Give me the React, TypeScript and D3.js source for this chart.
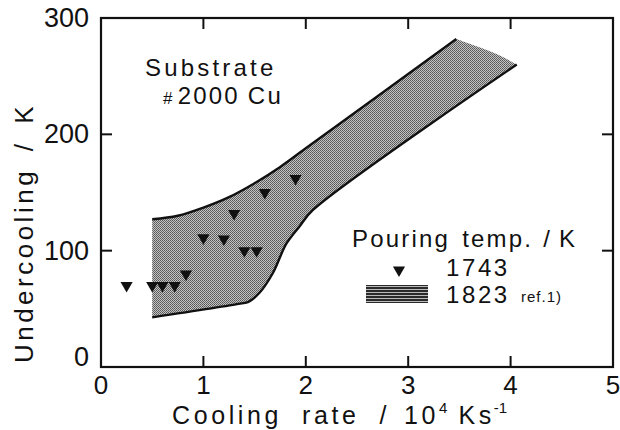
import React from "react";
import * as d3 from "d3";

const xTicks = [0, 1, 2, 3, 4, 5];
const yTicks = [0, 100, 200, 300];
const innerXTicks = [1, 2, 3, 4];
const innerYTicks = [100, 200];

// Pouring temp 1743 K (triangles)
const rate1743 = [0.25, 0.5, 0.6, 0.72, 0.83, 1.0, 1.2, 1.3, 1.4, 1.52, 1.6, 1.9];
const under1743 = [70, 70, 70, 70, 80, 111, 110, 132, 100, 100, 150, 162];

// Pouring temp 1823 K band (ref. 1)
const bandUpperX = [0.5, 0.75, 1.0, 1.25, 1.5, 1.75, 2.0, 3.47];
const bandUpperY = [127, 130, 137, 146, 158, 172, 188, 282];
const bandRightX = [3.47, 3.69, 3.89, 4.06];
const bandRightY = [282, 275, 268, 260];
const bandLowerX = [4.06, 2.07, 1.94, 1.81, 1.68, 1.55, 1.44, 1.36, 0.5];
const bandLowerY = [260, 135, 121, 106, 81, 64, 56, 54.5, 42.7];

const W = 620;
const H = 430;
const FONT = "'Liberation Sans', Arial, sans-serif";

export default function App() {
  const x = d3.scaleLinear().domain([0, 5]).range([101, 613]);
  const y = d3.scaleLinear().domain([0, 300]).range([367, 18]);

  const pts = (xs: number[], ys: number[]) => xs.map((v, i) => [x(v), y(ys[i])] as [number, number]);
  const upper = pts(bandUpperX, bandUpperY);
  const right = pts(bandRightX, bandRightY);
  const lower = pts(bandLowerX, bandLowerY);

  const lineC = d3.line().curve(d3.curveCatmullRom.alpha(0.5));
  const upperPath = lineC(upper) as string;
  const rightPath = lineC(right) as string;
  const lowerPath = lineC(lower) as string;
  const fillPath =
    upperPath + "L" + rightPath.slice(1) + "L" + lowerPath.slice(1) + "Z";

  const tri = d3.symbol().type(d3.symbolTriangle).size(64)() as string;

  const [x0, x1] = x.range();
  const [y0, y1] = y.range();

  const txt = { fontFamily: FONT, fill: "#111" } as const;

  return (
    <svg
      width={W}
      height={H}
      viewBox={`0 0 ${W} ${H}`}
      style={{ position: "absolute", left: 0, top: 0, background: "#fff" }}
    >
      <defs>
        <pattern id="stipple" width="2" height="2" patternUnits="userSpaceOnUse">
          <rect width="2" height="2" fill="#c4c4c4" />
          <rect width="1" height="1" fill="#555" />
          <rect x="1" y="1" width="1" height="1" fill="#666" />
        </pattern>
        <pattern id="hatch" width="4" height="3" patternUnits="userSpaceOnUse">
          <rect width="4" height="3" fill="#2a2a2a" />
          <rect y="1" width="4" height="1" fill="#bbb" />
        </pattern>
      </defs>

      {/* band */}
      <path d={fillPath} fill="url(#stipple)" stroke="none" />
      <path d={upperPath} fill="none" stroke="#111" strokeWidth={2.4} />
      <path d={lowerPath} fill="none" stroke="#111" strokeWidth={2.4} />

      {/* frame */}
      <rect x={x0} y={y1} width={x1 - x0} height={y0 - y1} fill="none" stroke="#111" strokeWidth={2.2} />
      {innerXTicks.map((t) => (
        <g key={"xt" + t}>
          <line x1={x(t)} x2={x(t)} y1={y0} y2={y0 - 11} stroke="#111" strokeWidth={2} />
          <line x1={x(t)} x2={x(t)} y1={y1} y2={y1 + 11} stroke="#111" strokeWidth={2} />
        </g>
      ))}
      {innerYTicks.map((t) => (
        <g key={"yt" + t}>
          <line x1={x0} x2={x0 + 11} y1={y(t)} y2={y(t)} stroke="#111" strokeWidth={2} />
          <line x1={x1} x2={x1 - 11} y1={y(t)} y2={y(t)} stroke="#111" strokeWidth={2} />
        </g>
      ))}

      {/* tick labels */}
      {xTicks.map((t) => (
        <text key={"xl" + t} x={x(t)} y={394} textAnchor="middle" fontSize={26} {...txt}>
          {t}
        </text>
      ))}
      {yTicks.map((t) => (
        <text
          key={"yl" + t}
          x={89}
          y={y(t) + (t === 0 ? -10 : 0)}
          textAnchor="end"
          dominantBaseline="central"
          fontSize={27}
          {...txt}
        >
          {t}
        </text>
      ))}

      {/* axis titles */}
      <text
        transform={`translate(33,${233}) rotate(-90)`}
        textAnchor="middle"
        fontSize={26}
        letterSpacing={3.5}
        wordSpacing={6}
        {...txt}
      >
        Undercooling / K
      </text>
      <text x={172} y={424} fontSize={25} letterSpacing={3.6} {...txt}>
        <tspan>Cooling</tspan>
        <tspan dx={20}>rate</tspan>
        <tspan dx={20}>/</tspan>
        <tspan dx={14}>10</tspan>
        <tspan dy={-11} fontSize={15} letterSpacing={1}>4</tspan>
        <tspan dx={10} dy={11}>Ks</tspan>
        <tspan dx={-1} dy={-11} fontSize={15} letterSpacing={0}>-1</tspan>
      </text>

      {/* annotation */}
      <text x={145} y={76} fontSize={24} letterSpacing={3.2} {...txt}>
        Substrate
      </text>
      <text x={163} y={104} fontSize={24} letterSpacing={2.2} {...txt}>
        <tspan fontSize={17}>#</tspan>
        <tspan dx={3}>2000</tspan>
        <tspan dx={8}>Cu</tspan>
      </text>

      {/* data points */}
      {rate1743.map((r, i) => (
        <path
          key={"p" + i}
          d={tri}
          transform={`translate(${x(r)},${y(under1743[i])}) rotate(180)`}
          fill="#111"
        />
      ))}

      {/* legend */}
      <text x={352} y={247} fontSize={24} letterSpacing={2.2} {...txt}>
        <tspan>Pouring</tspan>
        <tspan dx={12}>temp.</tspan>
        <tspan dx={10}>/</tspan>
        <tspan dx={7}>K</tspan>
      </text>
      <path d={tri} transform={`translate(399,270) rotate(180)`} fill="#111" />
      <text x={446} y={276} fontSize={24} letterSpacing={2.6} {...txt}>
        1743
      </text>
      <rect x={366} y={285} width={62} height={18} fill="url(#hatch)" />
      <text x={446} y={303} fontSize={24} letterSpacing={2.6} {...txt}>
        1823
      </text>
      <text x={521} y={302} fontSize={15} letterSpacing={1} {...txt}>
        ref.1)
      </text>
    </svg>
  );
}
